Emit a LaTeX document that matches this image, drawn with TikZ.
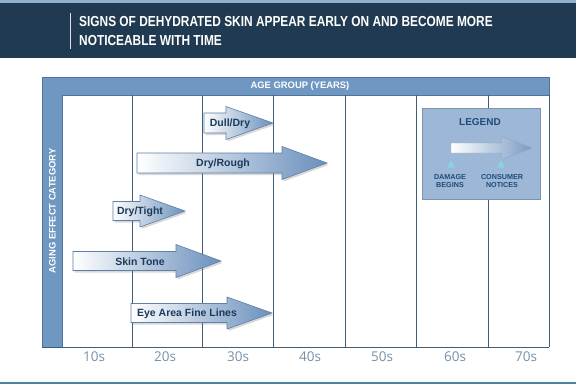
\documentclass[tikz,border=0pt]{standalone}
\usepackage{fontspec}
\setmainfont{Liberation Sans}
\newfontfamily\titlefont[FakeStretch=0.82]{Liberation Sans}
\newfontfamily\axisfont{Open Sans}
\usetikzlibrary{shadows}
\definecolor{hdr}{HTML}{1F3A51}
\definecolor{hdrline}{HTML}{8FB0CC}
\definecolor{frameblue}{HTML}{6E97C2}
\definecolor{frameedge}{HTML}{4F739A}
\definecolor{gridc}{HTML}{3F5D78}
\definecolor{arrowblue}{HTML}{6A90BC}
\definecolor{arrowedge}{HTML}{5E7FA6}
\definecolor{labeltxt}{HTML}{1C3B5C}
\definecolor{axistxt}{HTML}{7890A8}
\definecolor{legfill}{HTML}{9DB8D6}
\definecolor{legtxt}{HTML}{1F4B78}
\definecolor{tric}{HTML}{86D3E3}
\definecolor{bottomline}{HTML}{4E84A0}
\newcommand\mkarrow[6]{% xl, xh, xt, yc, body half, head half
  \path[arrowshape] (#1,{#4-#5}) -- (#2,{#4-#5}) -- (#2,{#4-#6}) -- (#3,#4)
    -- (#2,{#4+#6}) -- (#2,{#4+#5}) -- (#1,{#4+#5}) -- cycle;}
\begin{document}
\begin{tikzpicture}[x=1pt,y=-1pt,
  arrowshape/.style={draw=arrowedge, line width=0.6pt, left color=white, right color=arrowblue,
    drop shadow={opacity=0.3, shadow xshift=1.5pt, shadow yshift=-2pt}},
  legarrow/.style={draw=arrowedge!70, line width=0.4pt, left color=white, right color=arrowblue!90},
  lbl/.style={font=\fontsize{10.5}{12}\selectfont\bfseries, text=labeltxt, inner sep=0pt},
  axis/.style={font=\axisfont\fontsize{13.5}{15}\selectfont, text=axistxt, inner sep=0pt},
  bartext/.style={font=\fontsize{9.4}{11}\selectfont\bfseries, text=white, inner sep=0pt},
  legsmall/.style={font=\fontsize{7.2}{8.4}\selectfont\bfseries, text=legtxt, align=center, inner sep=0pt},
  gridline/.style={draw=gridc, line width=0.8pt}]
\useasboundingbox (0,0) rectangle (576,386);
\fill[white] (0,0) rectangle (576,386);
% header
\fill[hdrline] (0,0) rectangle (576,3);
\fill[hdr] (0,3) rectangle (576,58);
\draw[white!85!hdr, line width=0.9pt] (70,13) -- (70,49);
\node[anchor=west, font=\titlefont\fontsize{14.5}{19}\selectfont\bfseries, text=white, align=left, inner sep=0pt] (title) at (79,31.5)
  {SIGNS OF DEHYDRATED SKIN APPEAR EARLY ON AND BECOME MORE\\NOTICEABLE WITH TIME};
% frame
\fill[frameblue] (42,77) rectangle (549,95);
\fill[frameblue] (42,77) rectangle (62,347);
\draw[frameedge, line width=0.6pt] (42,347) -- (42,77) -- (549,77) -- (549,95);
\draw[frameedge, line width=0.6pt] (62,347) -- (62,95) -- (549,95);
% grid
\foreach \x in {132,202,273,345,416,488,549} \draw[gridline] (\x,95) -- (\x,347);
\draw[gridline] (42,347) -- (549,347);
\node[bartext] (agegroup) at (300,86.5) {AGE GROUP (YEARS)};
\node[bartext, rotate=90] (category) at (52.5,211) {AGING EFFECT CATEGORY};
% axis labels
\node[axis] (a10) at (94,357) {10s};
\node[axis] (a20) at (165,357) {20s};
\node[axis] (a30) at (238,357) {30s};
\node[axis] (a40) at (310,357) {40s};
\node[axis] (a50) at (382,357) {50s};
\node[axis] (a60) at (455,357) {60s};
\node[axis] (a70) at (526,357) {70s};
% arrows
\mkarrow{204}{226}{273}{123}{10}{16.5}
\node[lbl] (dulldry) at (230,123.5) {Dull/Dry};
\mkarrow{137}{282}{327}{163}{10}{16.5}
\node[lbl] (dryrough) at (223,163.5) {Dry/Rough};
\mkarrow{113}{140}{185}{211}{9.5}{16}
\node[lbl] (drytight) at (140,211.5) {Dry/Tight};
\mkarrow{73}{176}{221}{261}{9.5}{16.5}
\node[lbl] (skintone) at (140,261.5) {Skin Tone};
\mkarrow{131}{227}{272}{313}{9.5}{16}
\node[lbl] (eyearea) at (187,313.5) {Eye Area Fine Lines};
% legend
\fill[legfill] (422,108) rectangle (540,199);
\draw[legfill!80!black, line width=0.3pt] (422,108) rectangle (540,199);
\node[font=\fontsize{10}{12}\selectfont\bfseries, text=legtxt, inner sep=0pt] (legend) at (480,122) {LEGEND};
\path[legarrow] (451,143) -- (502,143) -- (502,136.5) -- (532,148) -- (502,159.5) -- (502,153) -- (451,153) -- cycle;
\fill[tric] (447,167.5) -- (451,160.5) -- (455,167.5) -- cycle;
\fill[tric] (497,167.5) -- (501,160.5) -- (505,167.5) -- cycle;
\node[legsmall] (damage) at (450,181) {DAMAGE\\BEGINS};
\node[legsmall] (consumer) at (502,181) {CONSUMER\\NOTICES};
% bottom line
\fill[bottomline] (0,381.5) rectangle (576,384);
\end{tikzpicture}
\end{document}
